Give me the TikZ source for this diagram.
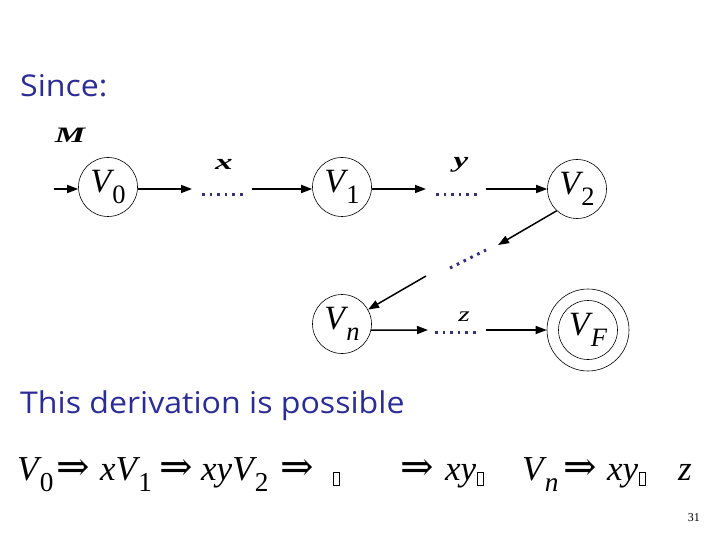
\documentclass[tikz,border=0pt]{standalone}
\usepackage{fontspec}
\usepackage{graphicx}
\setmainfont{Liberation Serif}
\newfontfamily\slidefont{Open Sans}
\newfontfamily\arrfont{DejaVu Serif}
\usetikzlibrary{arrows.meta}
\definecolor{slideblue}{RGB}{44,44,150}
\definecolor{dotblue}{RGB}{50,50,120}
\newcommand\VV[1]{\textit{V}\kern-0.06em\raisebox{-0.32em}{\scalebox{0.78}{#1}}}
\newcommand\RA{{\arrfont\fontsize{40}{40}\selectfont ⇒}}
\newcommand\gbox{\kern1pt\raisebox{-5pt}{\setlength{\fboxrule}{0.9pt}\setlength{\fboxsep}{0pt}\fbox{\rule{0pt}{12pt}\rule{4.8pt}{0pt}}}}
\tikzset{
  state/.style={circle,draw,line width=0.6pt,minimum size=59pt,inner sep=0pt,font=\fontsize{34}{34}\selectfont},
  arr/.style={-{Triangle[length=11pt,width=8pt]},line width=1.5pt},
  dots/.style={dotblue,line width=3pt,dash pattern=on 2.6pt off 5pt},
  edgelab/.style={inner sep=0pt,font=\bfseries\itshape\fontsize{22}{22}\selectfont},
  slidetext/.style={anchor=base west,inner sep=0pt,text=slideblue,font=\slidefont\fontsize{30}{30}\selectfont},
  der/.style={anchor=base west,inner sep=0pt,font=\fontsize{35}{35}\selectfont}
}
\begin{document}
\begin{tikzpicture}[x=1pt,y=-1pt]
\useasboundingbox (0,0) rectangle (720,540);
% titles
\node[slidetext] (since) at (20,97) {\scalebox{1.07}[1]{Since:}};
\node[slidetext] (poss) at (20,413) {\scalebox{1.07}[1]{This derivation is possible}};
% states
\node[state] (V0) at (108,187) {\VV{0}};
\node[state] (V1) at (342,187) {\VV{1}};
\node[state] (V2) at (577,189) {\VV{2}};
\node[state] (Vn) at (342,324) {\VV{\textit{n}}};
\node[state] (VF) at (588,330) {\VV{\textit{F}}};
\node[circle,draw,line width=0.6pt,minimum size=82pt,inner sep=0pt] (VFo) at (588,330) {};
% labels
\node[edgelab] (M) at (70,135) {\scalebox{1.55}[1]{M}};
\node[edgelab] (lx) at (224,164) {\scalebox{1.6}[1]{x}};
\node[edgelab] (ly) at (461,165) {\scalebox{1.5}[1]{y}};
\node[inner sep=0pt,font=\itshape\fontsize{21}{21}\selectfont] (lz) at (464,317) {\scalebox{1.4}[1]{z}};
% coordinates
\coordinate (in) at (54,189);
\coordinate (a1) at (192,189);
\coordinate (d1s) at (202,195);
\coordinate (d1e) at (245,195);
\coordinate (b1) at (252,189);
\coordinate (a2) at (426,189);
\coordinate (d2s) at (436,195);
\coordinate (d2e) at (478,195);
\coordinate (b2) at (486,189);
\coordinate (t3) at (498,245);
\coordinate (d3s) at (450,268);
\coordinate (d3e) at (486,250);
\coordinate (s4) at (426,276);
\coordinate (a5) at (428,330);
\coordinate (d5s) at (435,332);
\coordinate (d5e) at (478,332);
\coordinate (b5) at (486,330);
% arrows
\draw[arr] (in) -- (V0.west |- in);
\draw[arr] (V0.east |- a1) -- (a1);
\draw[dots] (d1s) -- (d1e);
\draw[arr] (b1) -- (V1.west |- b1);
\draw[arr] (V1.east |- a2) -- (a2);
\draw[dots] (d2s) -- (d2e);
\draw[arr] (b2) -- (V2);
\draw[arr] (V2.227) -- (t3);
\draw[dots] (d3s) -- (d3e);
\draw[arr] (s4) -- (Vn.29);
\draw[arr] (Vn.-12) -- (a5);
\draw[dots] (d5s) -- (d5e);
\draw[arr] (b5) -- (VFo);
% derivation
\node[der] (e1) at (17,480) {\VV{0}};
\node[der] (r1) at (56,480) {\RA};
\node[der] (e2) at (100,480) {\textit{x}\VV{1}};
\node[der] (r2) at (159,480) {\RA};
\node[der] (e3) at (201,480) {\textit{xy}\VV{2}};
\node[der] (r3) at (280,480) {\RA};
\node[der] (e4) at (332,480) {\gbox};
\node[der] (r4) at (400,480) {\RA};
\node[der] (e5) at (445,480) {\textit{xy}\gbox};
\node[der] (e6) at (522,480) {\VV{\textit{n}}};
\node[der] (r5) at (563,480) {\RA};
\node[der] (e7) at (607,480) {\textit{xy}\gbox};
\node[der] (e8) at (678,480) {\textit{z}};
% page number
\node[anchor=base east,inner sep=0pt,font=\fontsize{12}{12}\selectfont] (pg) at (700,521) {31};
\end{tikzpicture}
\end{document}
